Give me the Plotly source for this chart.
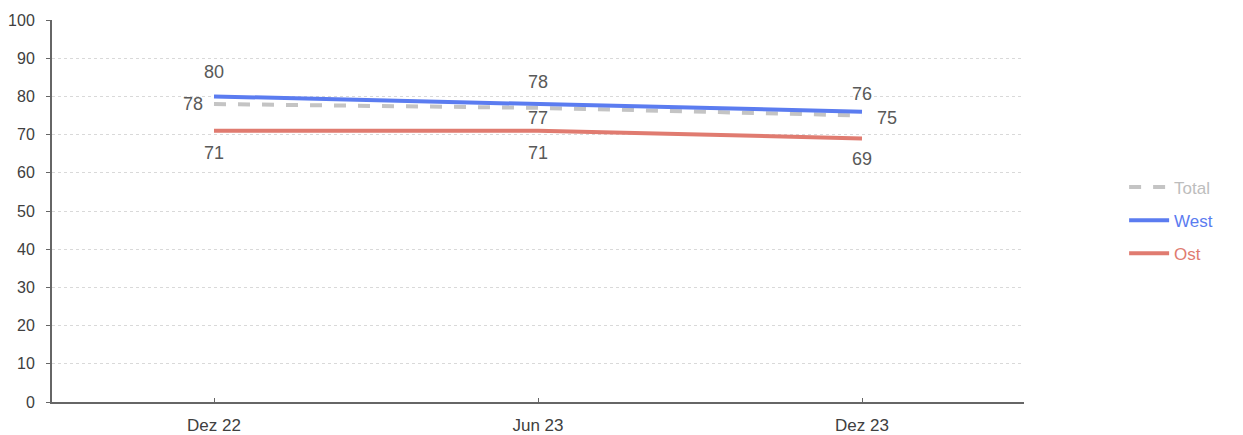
import plotly.graph_objects as go

categories = ["Dez 22", "Jun 23", "Dez 23"]
total = [78, 77, 75]
west = [80, 78, 76]
ost = [71, 71, 69]
y_ticks = [0, 10, 20, 30, 40, 50, 60, 70, 80, 90, 100]

label_color = "#595959"
font_family = "Liberation Sans, Arial, sans-serif"
label_font = dict(family=font_family, size=18, color=label_color)

series = [
    ("Total", total, "#c4c4c4", "dash", "#bdbdbd"),
    ("West", west, "#5b7cf0", "solid", "#5b7cf0"),
    ("Ost", ost, "#e07b70", "solid", "#e07b70"),
]

fig = go.Figure()
for name, vals, color, dash, txt_color in series:
    fig.add_trace(go.Scatter(
        x=categories, y=vals, mode="lines",
        name=f"<span style='color:{txt_color}'>{name}</span>",
        legendgroup=name,
        line=dict(color=color, width=4, dash=dash),
    ))

# value labels: offsets in pixels from each point
offsets = {
    "Total": [(-21, 0), (0, -10), (25, -2)],
    "West": [(0, 24), (0, 22), (0, 18)],
    "Ost": [(0, -22), (0, -22), (0, -21)],
}
for name, vals, *_ in series:
    for cat, v, (dx, dy) in zip(categories, vals, offsets[name]):
        fig.add_annotation(
            x=cat, y=v, text=str(v), showarrow=False,
            xshift=dx, yshift=dy, font=label_font,
        )

fig.update_layout(
    width=1243, height=435,
    margin=dict(l=52, r=219, t=20, b=33),
    paper_bgcolor="white", plot_bgcolor="white",
    font=dict(family=font_family, size=14, color="#404040"),
    showlegend=True,
    legend=dict(
        x=1.103, y=0.475, xanchor="left", yanchor="middle",
        font=dict(size=17), tracegroupgap=8, itemwidth=40,
        bgcolor="rgba(0,0,0,0)",
    ),
    xaxis=dict(
        type="category", range=[-0.5, 2.5], automargin=False,
        showgrid=False, showline=True, linecolor="#666666", linewidth=2,
        ticks="inside", ticklen=4, tickcolor="#666666",
        tickfont=dict(size=17, color="#404040"),
        ticklabelstandoff=7,
    ),
    yaxis=dict(
        range=[0, 100], tickvals=y_ticks, automargin=False,
        showgrid=True, gridcolor="#d9d9d9", griddash="dot", gridwidth=1,
        showline=True, linecolor="#666666", linewidth=2,
        ticks="outside", ticklen=4, tickcolor="#666666",
        tickfont=dict(size=16, color="#404040"),
        ticklabelstandoff=8,
        zeroline=False,
    ),
)

fig.write_html("out.html")
